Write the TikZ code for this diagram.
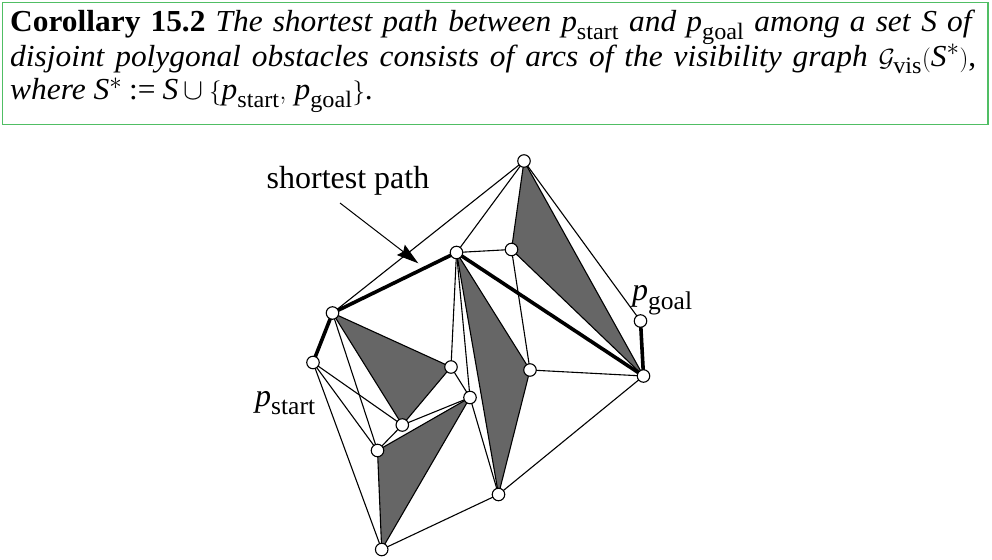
\documentclass[tikz,border=0pt]{standalone}
\usepackage{amsmath}
\usepackage{graphicx}
\usepackage{fontspec}
\setmainfont{Liberation Serif}
\newfontfamily\hdrfont{Liberation Serif}[FakeStretch=1.03]
\usetikzlibrary{arrows.meta}
\DeclareMathSizes{30.5}{30.5}{23.5}{18}
\DeclareMathSizes{32}{32}{25.5}{19}
\definecolor{boxgreen}{RGB}{80,190,100}
\definecolor{obgray}{RGB}{102,102,102}
\newcommand{\pS}{\ensuremath{\textit{p}_{\textup{start}}}}
\newcommand{\pG}{\ensuremath{\textit{p}_{\textup{goal}}}}
\newcommand{\bigcupsym}{\mathbin{\scalebox{1.2}{$\cup$}}}
\tikzset{
  vtx/.style={circle, draw, fill=white, line width=1.1pt, minimum size=12.5pt, inner sep=0pt},
  edge/.style={line width=1.1pt},
  pathedge/.style={line width=3.6pt, line cap=round, line join=round},
  obst/.style={fill=obgray, draw, line width=1.1pt, line join=round},
  hdr/.style={anchor=base west, inner sep=0pt, text height=20pt, text depth=7pt, font=\hdrfont\fontsize{30.5}{34}\selectfont},
  lbl/.style={inner sep=0pt, font=\fontsize{32}{34}\selectfont},
}
\begin{document}
\begin{tikzpicture}[x=1pt,y=-1pt]
\useasboundingbox (0,0) rectangle (992,559);
% header box
\draw[boxgreen, line width=1.5pt] (2.5,2.5) rectangle (988,124.5);
\node[hdr] (l1) at (10,32) {\makebox[965pt][s]{\textbf{Corollary 15.2} \textit{The shortest path between} \pS{} \textit{and} \pG{} \textit{among a set} \textit{S} \textit{of}}};
\node[hdr] (l2) at (10,66.5) {\makebox[966pt][s]{\textit{disjoint polygonal obstacles consists of arcs of the visibility graph} $\mathcal{G}_{\textup{vis}}(\textit{S}^{*})$,}};
\node[hdr] (l3) at (10,100) {\textit{where} $\textit{S}^{*} \mathrel{\textup{:=}} \textit{S}\bigcupsym\{\pS,\,\pG\}$.};
% vertex positions
\coordinate (A) at (524,161);
\coordinate (B) at (456.5,252.5);
\coordinate (C) at (511.5,249.5);
\coordinate (D) at (332.5,313);
\coordinate (E) at (313,362.5);
\coordinate (F) at (640.5,321);
\coordinate (G) at (643.5,376);
\coordinate (H) at (530,370);
\coordinate (I) at (451,367);
\coordinate (J) at (470,397.5);
\coordinate (K) at (402.3,425);
\coordinate (L) at (377.5,450.5);
\coordinate (M) at (498.5,494.5);
\coordinate (N) at (381.7,549.5);
% obstacles
\draw[obst] (A) -- (C) -- (G) -- cycle;
\draw[obst] (B) -- (H) -- (M) -- cycle;
\draw[obst] (D) -- (I) -- (K) -- cycle;
\draw[obst] (L) -- (J) -- (N) -- cycle;
% visibility edges
\draw[edge] (A) -- (D);
\draw[edge] (A) -- (B);
\draw[edge] (A) -- (F);
\draw[edge] (B) -- (C);
\draw[edge] (B) -- (I);
\draw[edge] (B) -- (J);
\draw[edge] (C) -- (H);
\draw[edge] (H) -- (G);
\draw[edge] (M) -- (G);
\draw[edge] (M) -- (N);
\draw[edge] (J) -- (M);
\draw[edge] (I) -- (J);
\draw[edge] (D) -- (L);
\draw[edge] (E) -- (K);
\draw[edge] (E) -- (L);
\draw[edge] (E) -- (N);
\draw[edge] (K) -- (L);
\draw[edge] (K) -- (J);
% shortest path
\draw[pathedge] (E) -- (D) -- (B) -- (G) -- (F);
% vertices
\foreach \v in {A,B,C,D,E,F,G,H,I,J,K,L,M,N}
  \node[vtx] (v\v) at (\v) {};
% labels
\node[lbl, anchor=base] (lsp) at (348,188.3) {shortest path};
\coordinate (arS) at (340,203);
\coordinate (arE) at (418.3,263.3);
\draw[line width=1pt, -{Stealth[length=22pt,width=13pt,inset=3pt]}] (arS) -- (arE);
\node[lbl, anchor=base west] (lst) at (255,406) {\pS};
\node[lbl, anchor=base west] (lgo) at (632,300) {\pG};
\end{tikzpicture}
\end{document}
